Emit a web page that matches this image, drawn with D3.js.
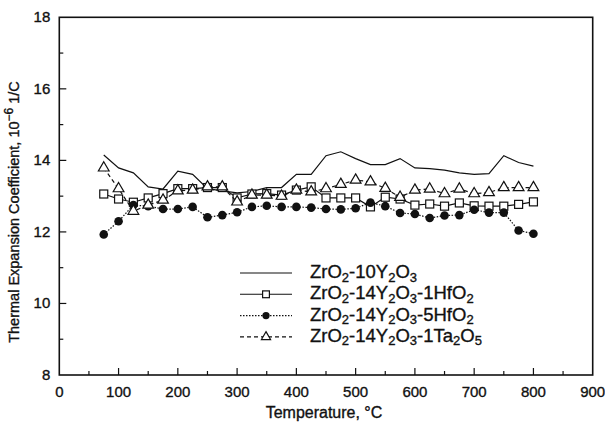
<!DOCTYPE html>
<html>
<head>
<meta charset="utf-8">
<script src="https://cdn.jsdelivr.net/npm/d3@7"></script>
<style>
  body { margin: 0; background: #fff; }
  text { font-family: "Liberation Sans", Arial, sans-serif; fill: #111; stroke: #111; stroke-width: 0.35px; }
</style>
</head>
<body>
<div id="chart"></div>
<script>
// Temperatura (°C) de cada medida
const temps = [75, 100, 125, 150, 175, 200, 225, 250, 275, 300, 325, 350, 375, 400, 425,
               450, 475, 500, 525, 550, 575, 600, 625, 650, 675, 700, 725, 750, 775, 800];

// Coeficiente de expansión térmica (10^-6 1/C) por composición
const y10Y2O3 = [14.15, 13.79, 13.65, 13.26, 13.2, 13.7, 13.61, 13.21, 13.15, 13.09, 13.13, 13.24, 13.24, 13.61, 13.61,
                 14.13, 14.24, 14.05, 13.88, 13.88, 14.05, 13.79, 13.77, 13.73, 13.65, 13.61, 13.63, 14.13, 13.94, 13.84];
const y1HfO2 = [13.06, 12.92, 12.83, 12.95, 13.07, 13.21, 13.21, 13.24, 13.24, 12.95, 13.06, 13.07, 13.03, 13.17, 13.26,
                12.95, 12.95, 12.95, 12.7, 12.97, 12.92, 12.75, 12.78, 12.72, 12.81, 12.73, 12.72, 12.72, 12.77, 12.84];
const y5HfO2 = [11.93, 12.3, 12.75, 12.72, 12.64, 12.64, 12.7, 12.41, 12.47, 12.55, 12.7, 12.73, 12.7, 12.7, 12.68,
                12.64, 12.63, 12.66, 12.82, 12.72, 12.53, 12.5, 12.39, 12.46, 12.47, 12.62, 12.54, 12.54, 12.04, 11.95];
const y1Ta2O5 = [13.79, 13.21, 12.58, 12.75, 12.89, 13.15, 13.17, 13.26, 13.26, 12.84, 13.03, 13.03, 13.0, 13.17, 13.12,
                 13.21, 13.33, 13.45, 13.4, 13.22, 12.97, 13.17, 13.2, 13.07, 13.2, 13.07, 13.1, 13.24, 13.24, 13.24];

// Ejes
const xTicks = [0, 100, 200, 300, 400, 500, 600, 700, 800, 900];
const yTicks = [8, 10, 12, 14, 16, 18];

const series = [
  { name: "ZrO<sub>2</sub>-10Y<sub>2</sub>O<sub>3</sub>", values: y10Y2O3, dash: null, marker: "none" },
  { name: "ZrO<sub>2</sub>-14Y<sub>2</sub>O<sub>3</sub>-1HfO<sub>2</sub>", values: y1HfO2, dash: null, marker: "square" },
  { name: "ZrO<sub>2</sub>-14Y<sub>2</sub>O<sub>3</sub>-5HfO<sub>2</sub>", values: y5HfO2, dash: "1.5,1.5", marker: "circle" },
  { name: "ZrO<sub>2</sub>-14Y<sub>2</sub>O<sub>3</sub>-1Ta<sub>2</sub>O<sub>5</sub>", values: y1Ta2O5, dash: "4,3", marker: "triangle" }
];

const width = 605, height = 424;
const margin = { top: 17.3, right: 12.3, bottom: 49, left: 59.3 };
const w = width - margin.left - margin.right;
const h = height - margin.top - margin.bottom;

const svg = d3.select("#chart").append("svg")
  .attr("width", width).attr("height", height);

const g = svg.append("g").attr("transform", `translate(${margin.left},${margin.top})`);

const x = d3.scaleLinear().domain([0, 900]).range([0, w]);
const y = d3.scaleLinear().domain([8, 18]).range([h, 0]);

// Marcas de los ejes (hacia dentro)
const xMinor = d3.range(50, 900, 100);
const yMinor = d3.range(9, 18, 2);

g.selectAll(".xt").data(xTicks.slice(1, -1)).enter().append("line")
  .attr("x1", d => x(d)).attr("x2", d => x(d)).attr("y1", h).attr("y2", h - 7)
  .attr("stroke", "#111").attr("stroke-width", 1.2);
g.selectAll(".xm").data(xMinor).enter().append("line")
  .attr("x1", d => x(d)).attr("x2", d => x(d)).attr("y1", h).attr("y2", h - 4)
  .attr("stroke", "#111").attr("stroke-width", 1.2);
g.selectAll(".yt").data(yTicks.slice(1, -1)).enter().append("line")
  .attr("x1", 0).attr("x2", 7).attr("y1", d => y(d)).attr("y2", d => y(d))
  .attr("stroke", "#111").attr("stroke-width", 1.2);
g.selectAll(".ym").data(yMinor).enter().append("line")
  .attr("x1", 0).attr("x2", 4).attr("y1", d => y(d)).attr("y2", d => y(d))
  .attr("stroke", "#111").attr("stroke-width", 1.2);

// Etiquetas de los ejes
g.selectAll(".xl").data(xTicks).enter().append("text")
  .attr("x", d => x(d)).attr("y", h + 22)
  .attr("text-anchor", "middle").style("font-size", "15px")
  .text(d => d);
g.selectAll(".yl").data(yTicks).enter().append("text")
  .attr("x", -9).attr("y", d => y(d) + 5)
  .attr("text-anchor", "end").style("font-size", "15px")
  .text(d => d);

svg.append("text")
  .attr("x", 324).attr("y", 418)
  .attr("text-anchor", "middle").style("font-size", "16px")
  .text("Temperature, °C");

const yt = svg.append("text")
  .attr("transform", `translate(19, 212) rotate(-90)`)
  .attr("text-anchor", "middle").style("font-size", "14.5px");
yt.append("tspan").text("Thermal Expansion Coefficient,  10");
yt.append("tspan").attr("dy", -6).style("font-size", "12px").text("−6");
yt.append("tspan").attr("dy", 6).text(" 1/C");

// Marco
g.append("rect").attr("width", w).attr("height", h)
  .attr("fill", "none").attr("stroke", "#111").attr("stroke-width", 1.6);

// Líneas y marcadores
const line = d3.line().x((d, i) => x(temps[i])).y(d => y(d));

function drawMarker(sel, type, s) {
  s = s || 1;
  if (type === "square") {
    sel.append("rect").attr("x", -4 * s).attr("y", -4 * s).attr("width", 8 * s).attr("height", 8 * s)
      .attr("fill", "#fff").attr("stroke", "#111").attr("stroke-width", 1.2);
  } else if (type === "circle") {
    sel.append("circle").attr("r", 4.3 * s).attr("fill", "#111");
  } else if (type === "triangle") {
    sel.append("path").attr("d", d3.symbol(d3.symbolTriangle, 50 * s * s)())
      .attr("fill", "#fff").attr("stroke", "#111").attr("stroke-width", 1.2);
  }
}

series.forEach(s => {
  g.append("path").datum(s.values)
    .attr("d", line).attr("fill", "none").attr("stroke", "#111")
    .attr("stroke-width", 1.2).attr("stroke-dasharray", s.dash);
  if (s.marker !== "none") {
    const m = g.selectAll(null).data(s.values).enter().append("g")
      .attr("transform", (d, i) => `translate(${x(temps[i])},${y(d)})`);
    drawMarker(m, s.marker);
  }
});

// Leyenda
const legend = svg.append("g").attr("transform", "translate(240, 273)");
series.forEach((s, i) => {
  const row = legend.append("g").attr("transform", `translate(0, ${i * 21.3})`);
  row.append("line").attr("x1", 0).attr("x2", 52).attr("y1", 0).attr("y2", 0)
    .attr("stroke", "#111").attr("stroke-width", 1.1).attr("stroke-dasharray", s.dash);
  const m = row.append("g").attr("transform", "translate(26,0)");
  drawMarker(m, s.marker, 0.85);
  const t = row.append("text").attr("x", 70).attr("y", 5).style("font-size", "18.5px");
  s.name.split(/(<sub>\d<\/sub>)/).filter(p => p).forEach(p => {
    const sub = p.match(/<sub>(\d)<\/sub>/);
    if (sub) {
      t.append("tspan").attr("dy", 3.5).style("font-size", "13px").text(sub[1]);
      t.append("tspan").attr("dy", -3.5).text("\u200b");
    } else {
      t.append("tspan").text(p);
    }
  });
});
</script>
</body>
</html>
